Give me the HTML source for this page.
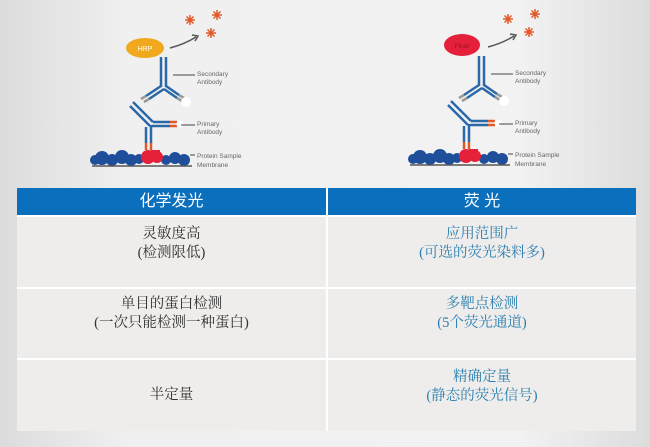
<!DOCTYPE html>
<html><head><meta charset="utf-8"><style>
body{margin:0;width:650px;height:447px;overflow:hidden;background:linear-gradient(90deg,#dcdcdc,#f0f0f0 20%,#f2f2f2 80%,#dcdcdc);font-family:"Liberation Serif","Noto Serif CJK SC",serif;}
.t{position:absolute;left:17px;top:188px;width:619px;height:243px;background:#fff;}
.c{position:absolute;background:#efedeb;display:flex;align-items:center;justify-content:center;text-align:center;font-size:14.5px;line-height:19px;color:#333;}
.h{background:#0a6fbd;color:#fff;font-family:"Liberation Sans","Noto Sans CJK SC",sans-serif;font-size:16px;}
.b{color:#2a7fb0;}
</style></head><body>
<svg width="650" height="185" style="position:absolute;left:0;top:0" font-family="Liberation Sans,sans-serif">
<defs>
<g id="ab">
 <path d="M170 48 Q185 44 196 37" stroke="#555" stroke-width="1.5" fill="none"/>
 <path d="M192 35 L198 36 L195 41" stroke="#555" stroke-width="1.5" fill="none"/>
 <g stroke="#e0592a" stroke-width="1.5">
  <path d="M185 20h10M190 15v10M186.5 16.5l7 7M193.5 16.5l-7 7"/>
  <path d="M212 15h10M217 10v10M213.5 11.5l7 7M220.5 11.5l-7 7"/>
  <path d="M206 33h10M211 28v10M207.5 29.5l7 7M214.5 29.5l-7 7"/>
 </g>
 <g stroke="#2a68a8" stroke-width="2.5" fill="none">
  <path d="M161 57V87M166 57V87"/>
  <path d="M161 86L146 96M164 89L149 99"/>
  <path d="M166 86L179 95M164 89L177 98"/>
 </g>
 <g stroke="#999" stroke-width="2.5"><path d="M146 96L141 99M149 99L144 102M179 95L184 98M177 98L182 101"/></g>
 <circle cx="186" cy="102" r="5" fill="#fff"/>
 <g stroke="#2a68a8" stroke-width="2.5" fill="none">
  <path d="M130 106L150 126M133 102L153 122"/>
  <path d="M153 122H170M152 126H170"/>
  <path d="M146 127V143M151 125V143"/>
 </g>
 <g stroke="#e0592a" stroke-width="2.5"><path d="M170 122h7M170 126h7M146 143v7M151 143v7"/></g>
 <circle cx="180" cy="124" r="3.5" fill="#fff"/>
 <g fill="#1f4e9a">
  <circle cx="102" cy="158" r="7"/><circle cx="112" cy="160" r="6"/><circle cx="122" cy="157" r="7"/><circle cx="131" cy="160" r="6"/><circle cx="139" cy="159" r="5"/><circle cx="166" cy="160" r="5"/><circle cx="175" cy="158" r="6"/><circle cx="184" cy="160" r="6"/><circle cx="95" cy="160" r="5"/>
 </g>
 <g fill="#e5203a"><circle cx="148" cy="157" r="7"/><circle cx="157" cy="157" r="6"/><rect x="151" y="150" width="9" height="8"/></g>
 <path d="M92 166H192" stroke="#555" stroke-width="1.5"/>
 <g stroke="#444" stroke-width="1"><path d="M173 75H195M181 125H195M190 155H195"/></g>
 <g fill="#666" font-size="6.5">
  <text x="197" y="76">Secondary</text><text x="197" y="84">Antibody</text>
  <text x="197" y="126">Primary</text><text x="197" y="134">Antibody</text>
  <text x="197" y="158">Protein Sample</text><text x="197" y="167">Membrane</text>
 </g>
</g>
</defs>
<use href="#ab"/>
<ellipse cx="145" cy="48" rx="19" ry="10" fill="#f0a81c"/>
<text x="145" y="51" font-size="7" fill="#fff" text-anchor="middle">HRP</text>
<g transform="translate(318,-1)"><use href="#ab"/></g>
<ellipse cx="462" cy="45" rx="18" ry="11" fill="#e5203a"/>
<text x="462" y="48" font-size="6.5" fill="#a01020" text-anchor="middle">Fluor</text>
</svg>
<div class="t">
 <div class="c h" style="left:0;top:0;width:309px;height:27px">化学发光</div>
 <div class="c h" style="left:311px;top:0;width:308px;height:27px">荧 光</div>
 <div class="c" style="left:0;top:29px;width:309px;height:70px;align-items:flex-start;padding-top:8px;box-sizing:border-box">灵敏度高<br>(检测限低)</div>
 <div class="c b" style="left:311px;top:29px;width:308px;height:70px;align-items:flex-start;padding-top:8px;box-sizing:border-box">应用范围广<br>(可选的荧光染料多)</div>
 <div class="c" style="left:0;top:101px;width:309px;height:69px;align-items:flex-start;padding-top:6px;box-sizing:border-box">单目的蛋白检测<br>(一次只能检测一种蛋白)</div>
 <div class="c b" style="left:311px;top:101px;width:308px;height:69px;align-items:flex-start;padding-top:6px;box-sizing:border-box">多靶点检测<br>(5个荧光通道)</div>
 <div class="c" style="left:0;top:172px;width:309px;height:71px">半定量</div>
 <div class="c b" style="left:311px;top:172px;width:308px;height:71px;align-items:flex-start;padding-top:8px;box-sizing:border-box">精确定量<br>(静态的荧光信号)</div>
</div>
</body></html>
